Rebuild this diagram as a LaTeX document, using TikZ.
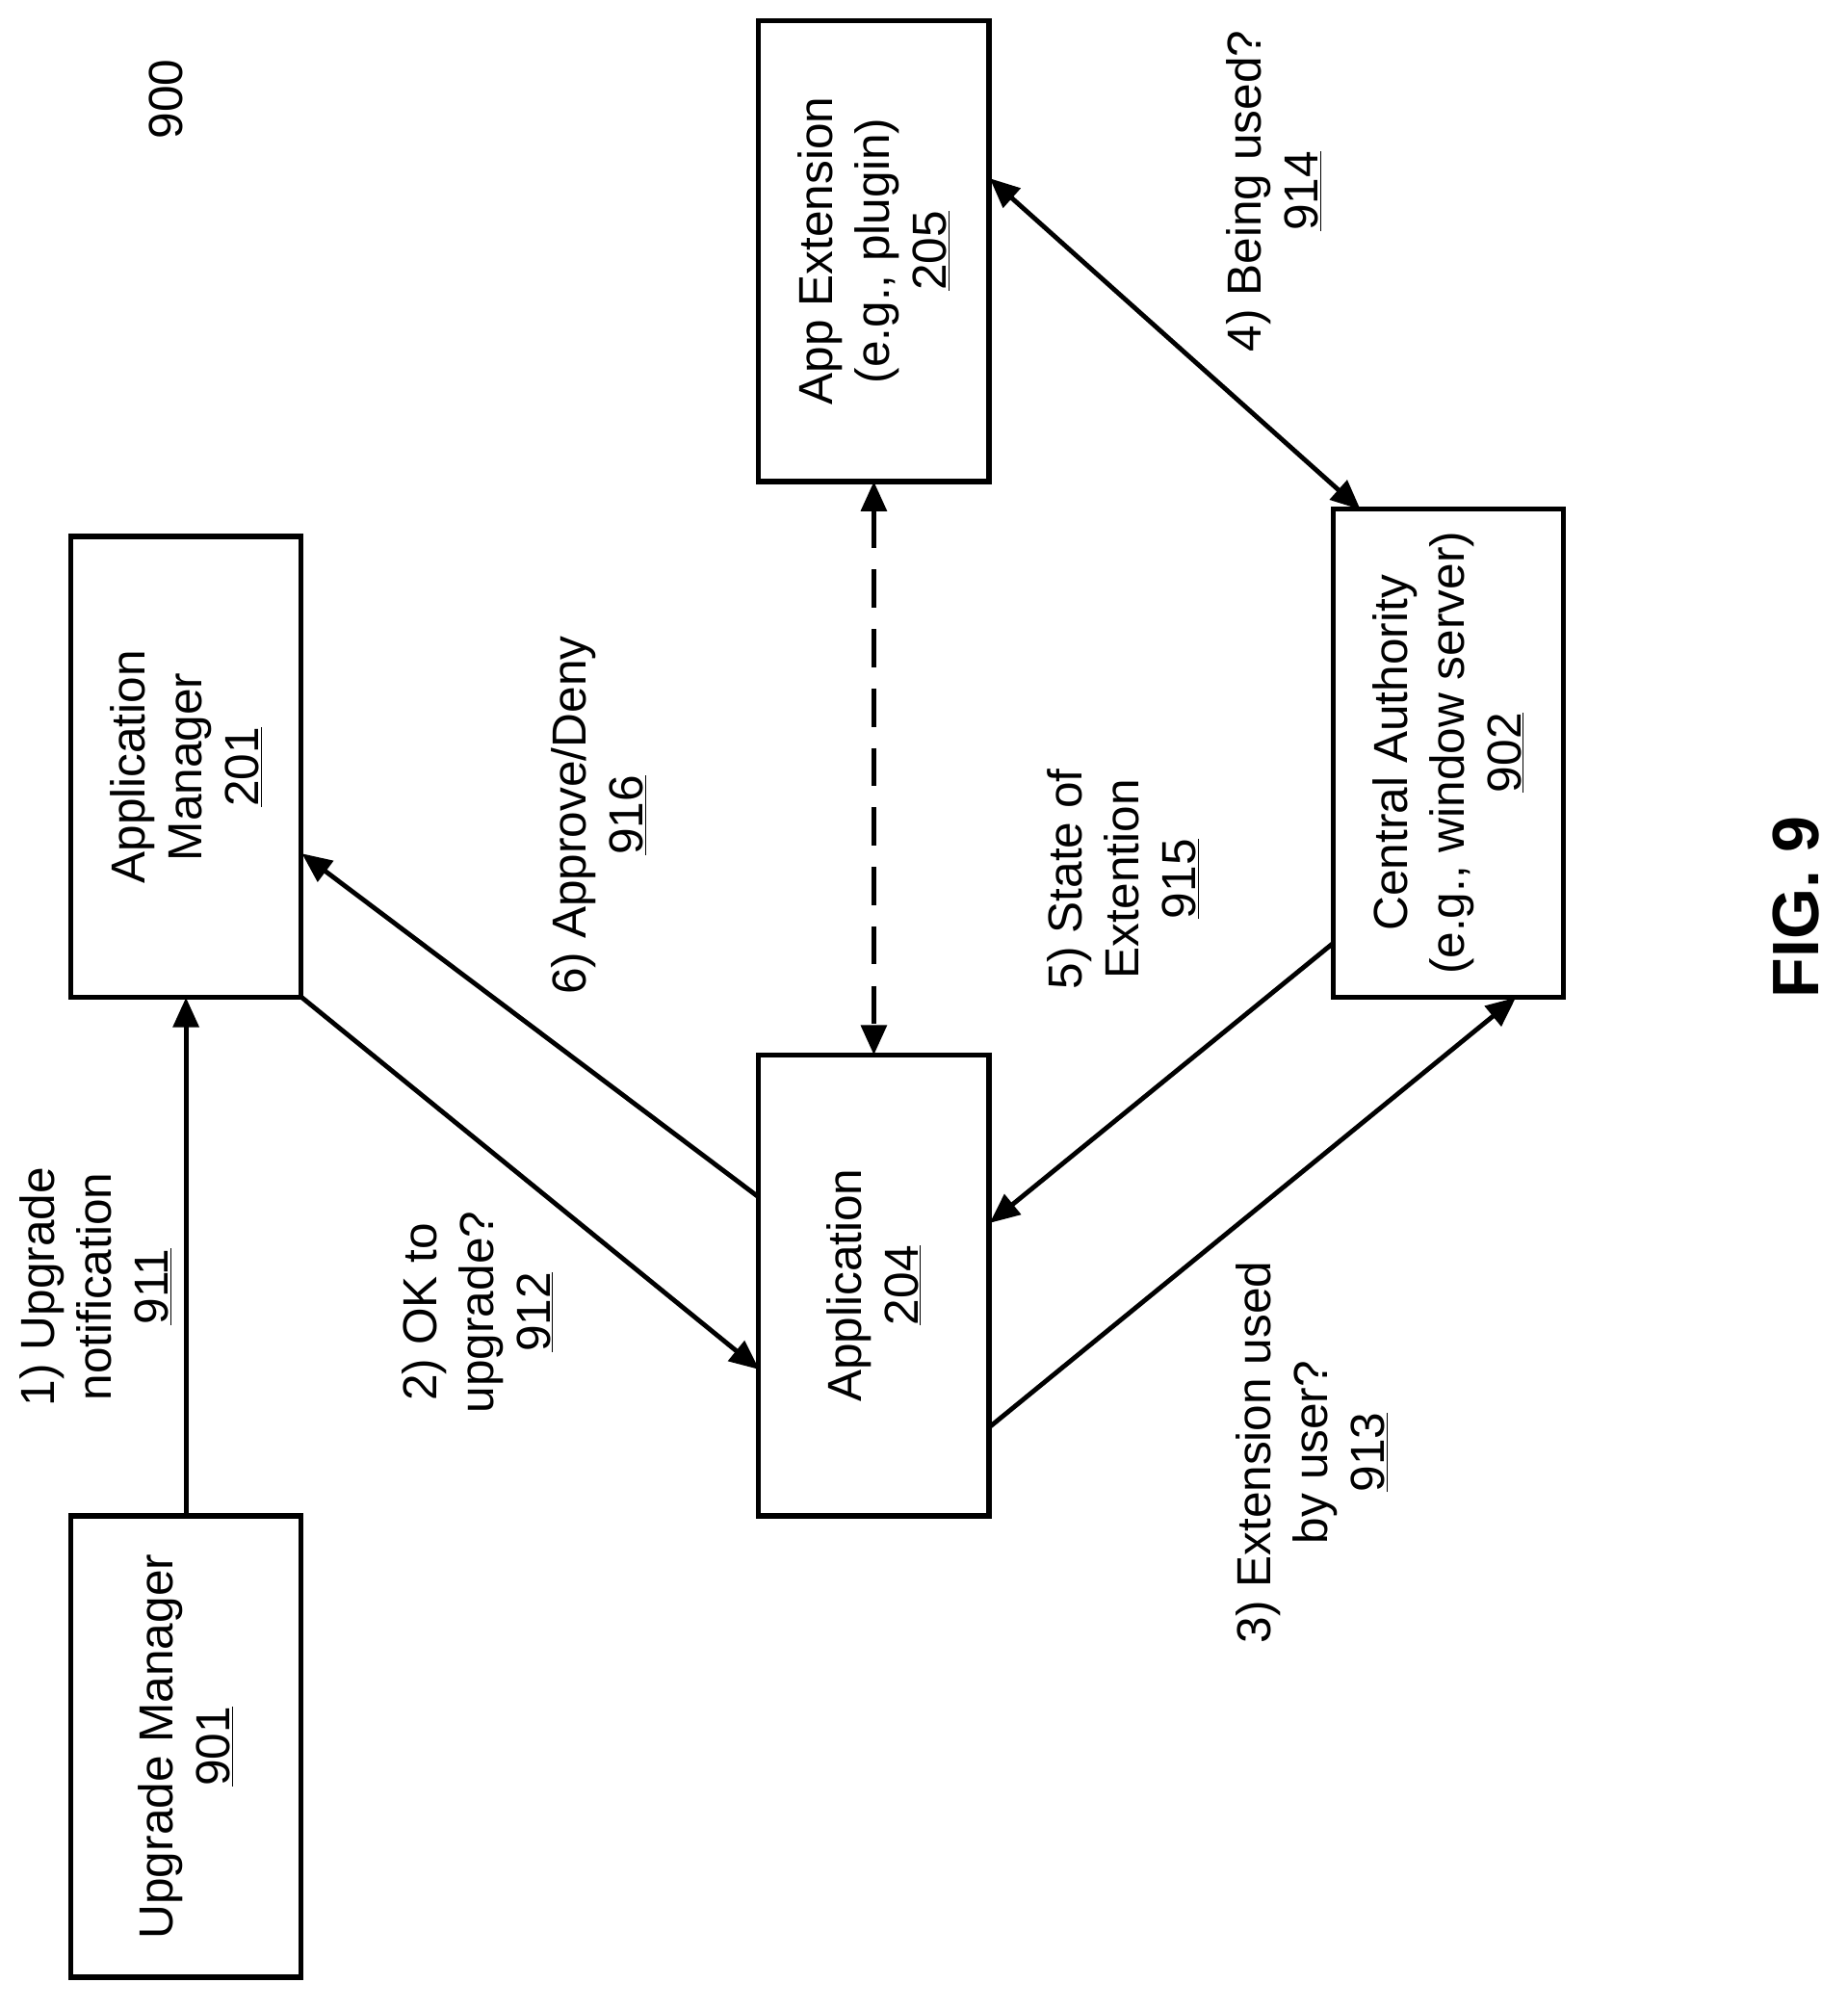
\documentclass[tikz,border=0pt]{standalone}
\usepackage{fontspec}
\setmainfont{Liberation Sans}
\usetikzlibrary{arrows.meta}
\begin{document}
\begin{tikzpicture}[x=0.3mm,y=-0.3mm,
  box/.style={draw,line width=1.2mm,minimum width=108.6mm,minimum height=54.3mm,rotate=90,align=center,inner sep=0pt},
  lab/.style={rotate=90,align=center},
  arr/.style={line width=1.1mm,-{Triangle[length=7mm,width=6mm]}},
  every node/.style={font=\fontsize{32}{38}\selectfont}]
\useasboundingbox (0,0) rectangle (1450,1577);
\node[box] (um) at (146,1371) {Upgrade Manager\\\underline{901}};
\node[box] (am) at (146,602) {Application\\Manager\\\underline{201}};
\node[box] (ap) at (686,1009) {Application\\\underline{204}};
\node[box] (ae) at (686,197) {App Extension\\(e.g., plugin)\\\underline{205}};
\node[box,minimum width=115mm] (ca) at (1137,591) {Central Authority\\(e.g., window server)\\\underline{902}};
\coordinate (a1) at (146,1190); \coordinate (b1) at (146,783);
\coordinate (a2) at (237,783); \coordinate (b2) at (596,1075);
\coordinate (a3) at (596,940); \coordinate (b3) at (237,670);
\coordinate (a4) at (686,378); \coordinate (b4) at (686,828);
\coordinate (a5) at (777,140); \coordinate (b5) at (1068,400);
\coordinate (a6) at (1047,740); \coordinate (b6) at (777,960);
\coordinate (a7) at (777,1120); \coordinate (b7) at (1190,783);
\draw[arr] (a1) -- (b1);
\draw[arr] (a2) -- (b2);
\draw[arr] (a3) -- (b3);
\draw[arr,{Triangle[length=7mm,width=6mm]}-{Triangle[length=7mm,width=6mm]},dash pattern=on 9mm off 5mm] (a4) -- (b4);
\draw[arr,{Triangle[length=7mm,width=6mm]}-{Triangle[length=7mm,width=6mm]}] (a5) -- (b5);
\draw[arr] (a6) -- (b6);
\draw[arr] (a7) -- (b7);
\node[lab] (n900) at (130,78) {900};
\node[lab] (l1) at (75,1010) {1) Upgrade\\notification\\\underline{911}};
\node[lab] (l2) at (375,1030) {2) OK to\\upgrade?\\\underline{912}};
\node[lab] (l6) at (470,640) {6) Approve/Deny\\\underline{916}};
\node[lab] (l5) at (882,690) {5) State of\\Extention\\\underline{915}};
\node[lab] (l3) at (1030,1140) {3) Extension used\\by user?\\\underline{913}};
\node[lab] (l4) at (1000,150) {4) Being used?\\\underline{914}};
\node[lab,font=\fontsize{44}{50}\selectfont\bfseries] (fig) at (1410,712) {FIG. 9};
\end{tikzpicture}
\end{document}
